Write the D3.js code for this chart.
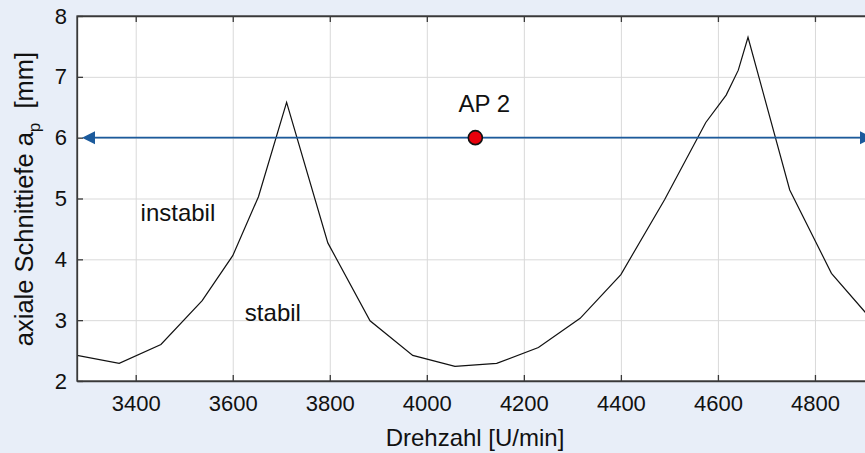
<!DOCTYPE html>
<html>
<head>
<meta charset="utf-8">
<script src="https://cdn.jsdelivr.net/npm/d3@7"></script>
<style>
  html, body { margin: 0; padding: 0; background: #e8eef8; overflow: hidden; }
  svg { display: block; font-family: "Liberation Sans", Arial, sans-serif; }
</style>
</head>
<body>
<svg id="chart" width="865" height="453"></svg>
<script>
// ---- data ----
const rpm = [3279, 3366, 3452, 3537, 3600, 3653, 3711, 3796, 3883, 3971, 4058, 4144, 4230, 4316, 4400, 4490, 4575, 4617, 4642, 4662, 4748, 4834, 4920];
const depth = [2.42, 2.29, 2.60, 3.32, 4.06, 5.03, 6.58, 4.27, 2.99, 2.42, 2.24, 2.29, 2.55, 3.03, 3.75, 4.98, 6.25, 6.70, 7.11, 7.65, 5.14, 3.77, 2.98];
const xTicks = [3400, 3600, 3800, 4000, 4200, 4400, 4600, 4800];
const yTicks = [2, 3, 4, 5, 6, 7, 8];
const xDomain = [3279, 4932];
const yDomain = [2, 8];
const apPoint = { rpm: 4100, depth: 6, label: "AP 2" };
const arrowDepth = 6;
const regionLabels = [
  { text: "instabil", rpm: 3410, depth: 4.63 },
  { text: "stabil", rpm: 3625, depth: 2.98 }
];
const xLabel = "Drehzahl [U/min]";

// ---- layout ----
const svg = d3.select("#chart");
const L = 77, T = 16, R = 879, B = 381;
const x = d3.scaleLinear().domain(xDomain).range([L, R]);
const y = d3.scaleLinear().domain(yDomain).range([B, T]);

svg.append("defs").append("clipPath").attr("id", "plotclip")
  .append("rect").attr("x", L).attr("y", T).attr("width", R - L).attr("height", B - T);

// plot background
svg.append("rect").attr("x", L).attr("y", T).attr("width", R - L).attr("height", B - T)
  .attr("fill", "#ffffff");

// grid
const gx = svg.append("g").attr("transform", `translate(0,${B})`)
  .call(d3.axisBottom(x).tickValues(xTicks).tickSize(-(B - T)).tickFormat(""));
gx.select(".domain").remove();
gx.selectAll("line").attr("stroke", "#d9d9d9").attr("stroke-width", 1);
const gy = svg.append("g").attr("transform", `translate(${L},0)`)
  .call(d3.axisLeft(y).tickValues(yTicks).tickSize(-(R - L)).tickFormat(""));
gy.select(".domain").remove();
gy.selectAll("line").attr("stroke", "#d9d9d9").attr("stroke-width", 1);

// curve
const line = d3.line().x((d, i) => x(rpm[i])).y(d => y(d));
svg.append("path").datum(depth).attr("clip-path", "url(#plotclip)")
  .attr("d", line).attr("fill", "none").attr("stroke", "#111").attr("stroke-width", 1.2)
  .attr("stroke-linejoin", "miter");

// axes
const axisColor = "#3a3a3a";
const fontTick = 22;
const ax = svg.append("g").attr("transform", `translate(0,${B})`)
  .call(d3.axisBottom(x).tickValues(xTicks).tickSize(-6).tickSizeOuter(0).tickPadding(14).tickFormat(d3.format("d")));
const axT = svg.append("g").attr("transform", `translate(0,${T})`)
  .call(d3.axisTop(x).tickValues(xTicks).tickSize(-6).tickSizeOuter(0).tickFormat(""));
const ay = svg.append("g").attr("transform", `translate(${L},0)`)
  .call(d3.axisLeft(y).tickValues(yTicks).tickSize(-6).tickSizeOuter(0).tickPadding(10).tickFormat(d3.format("d")));
[ax, axT, ay].forEach(g => {
  g.select(".domain").attr("stroke", axisColor).attr("stroke-width", 1.3);
  g.selectAll("line").attr("stroke", axisColor).attr("stroke-width", 1.3);
  g.selectAll("text").attr("fill", "#111").style("font-size", fontTick + "px")
    .style("font-family", '"Liberation Sans", Arial, sans-serif');
});

// arrow line at depth 6
const arrowColor = "#1b5a9c";
const ay6 = y(arrowDepth);
const xl = x(xDomain[0]) + 5, xr = x(xDomain[1]) - 6;
svg.append("line").attr("x1", xl + 4).attr("x2", xr - 4).attr("y1", ay6).attr("y2", ay6)
  .attr("stroke", arrowColor).attr("stroke-width", 1.6);
svg.append("path").attr("d", `M${xl},${ay6} L${xl + 13},${ay6 - 6.5} L${xl + 13},${ay6 + 6.5} Z`)
  .attr("fill", arrowColor);
svg.append("path").attr("d", `M${xr},${ay6} L${xr - 13},${ay6 - 6.5} L${xr - 13},${ay6 + 6.5} Z`)
  .attr("fill", arrowColor);

// AP point
svg.append("circle").attr("cx", x(apPoint.rpm)).attr("cy", y(apPoint.depth)).attr("r", 7)
  .attr("fill", "#e8000b").attr("stroke", "#111").attr("stroke-width", 1.6);
svg.append("text").attr("x", x(apPoint.rpm) + 9).attr("y", y(apPoint.depth) - 26)
  .attr("text-anchor", "middle").style("font-size", "24px").attr("fill", "#111")
  .text(apPoint.label);

// region labels
svg.selectAll("text.region").data(regionLabels).enter().append("text")
  .attr("class", "region")
  .attr("x", d => x(d.rpm)).attr("y", d => y(d.depth))
  .style("font-size", "24px").attr("fill", "#111")
  .text(d => d.text);

// x label
svg.append("text").attr("x", 475).attr("y", 446).attr("text-anchor", "middle")
  .style("font-size", "24px").attr("fill", "#111").text(xLabel);

// y label
const yl = svg.append("text").attr("transform", "translate(33,199) rotate(-90)")
  .attr("text-anchor", "middle").style("font-size", "25.5px").attr("fill", "#111");
yl.append("tspan").text("axiale Schnittiefe a");
yl.append("tspan").attr("dy", 7).style("font-size", "17px").text("p");
yl.append("tspan").attr("dy", -7).text("\u00a0 [mm]");

// frame
svg.append("rect").attr("x", L).attr("y", T).attr("width", R - L).attr("height", B - T)
  .attr("fill", "none").attr("stroke", axisColor).attr("stroke-width", 1.3);
</script>
</body>
</html>
